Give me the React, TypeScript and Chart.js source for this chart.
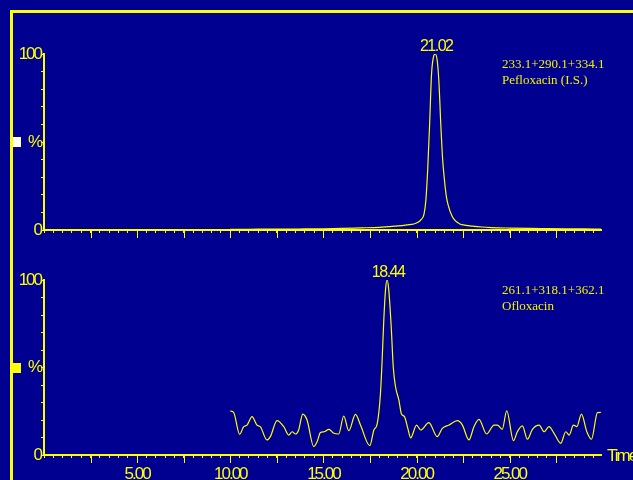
import React, { useEffect, useRef } from 'react';
import { Chart, registerables } from 'chart.js';

Chart.register(...registerables);

const BG = '#000090';
const YELLOW = '#ffff00';
const SANS = '"Liberation Sans", Arial, sans-serif';
const SERIF = '"Liberation Serif", "Times New Roman", serif';

// Top trace: Pefloxacin (I.S.), time (min) vs relative intensity (%)
const topTimes = [
  10.0, 11.0, 12.0, 13.0, 14.0, 15.0, 16.0, 17.0, 18.0, 18.5, 19.0, 19.5, 19.85,
  20.1, 20.25, 20.4, 20.5, 20.6, 20.7, 20.8, 20.9, 21.0, 21.1, 21.2, 21.3, 21.4,
  21.5, 21.6, 21.7, 21.9, 22.1, 22.3, 22.5, 23.0, 23.5, 24.0, 25.0, 26.0, 27.0,
  28.0, 29.0, 29.9,
];
const topValues = [
  0.4, 0.4, 0.5, 0.5, 0.6, 0.7, 0.9, 1.2, 1.5, 1.9, 2.3, 2.9, 3.4,
  4.5, 6, 9, 17, 35, 60, 88, 98, 100, 97, 84, 60, 40,
  28, 19, 14, 8, 5, 3.6, 2.9, 2.2, 1.7, 1.4, 1.1, 0.9, 0.8,
  0.7, 0.6, 0.5,
];

// Bottom trace: Ofloxacin
const bottomTimes = [
  10.0, 10.18, 10.5, 10.72, 10.9, 11.17, 11.43, 11.61, 11.97, 12.15, 12.51, 12.87,
  13.14, 13.32, 13.5, 13.67, 13.89, 14.12, 14.48, 14.66, 14.84, 15.05, 15.29, 15.56,
  15.82, 16.09, 16.36, 16.72, 16.99, 17.49, 17.71, 17.88, 18.06, 18.15, 18.24, 18.33,
  18.42, 18.51, 18.64, 18.75, 18.87, 19.05, 19.19, 19.35, 19.53, 19.68, 20.0, 20.22,
  20.66, 21.11, 21.38, 21.74, 22.19, 22.46, 22.81, 23.08, 23.35, 23.76, 24.16, 24.34,
  24.6, 24.84, 25.2, 25.41, 25.68, 25.95, 26.22, 26.58, 26.85, 27.11, 27.38, 27.74,
  28.01, 28.19, 28.42, 28.6, 28.85, 29.14, 29.39, 29.71, 29.89,
];
const bottomValues = [
  25.1, 24.4, 11.8, 16.2, 17.1, 21.9, 17.1, 16.2, 8.6, 10.5, 19.6, 16.2,
  11.4, 13.3, 12.0, 14.3, 23.4, 20.0, 4.8, 7.6, 12.8, 13.3, 14.7, 12.4,
  12.0, 22.3, 13.9, 23.2, 17.1, 5.3, 14.3, 17.5, 35, 54, 77, 94,
  100, 94, 73, 50, 39, 31.4, 23.4, 21.9, 15.2, 9.8, 17.1, 14.3,
  18.5, 10.5, 15.2, 17.1, 19.6, 17.1, 8.6, 16.2, 20.4, 12.0, 17.1, 17.1,
  14.7, 25.3, 8.2, 13.3, 16.6, 9.0, 14.7, 17.1, 13.3, 16.2, 12.4, 6.7,
  13.3, 11.4, 17.1, 16.2, 23.4, 13.3, 9.0, 24.2, 24.4,
];

const xLabelValues = [5, 10, 15, 20, 25];
const xTickLabels = ['5.00', '10.00', '15.00', '20.00', '25.00'];
const yTickValues = [0, 50, 100];
const yTickLabels = ['0', '%', '100'];
const topPeakLabel = '21.02';
const bottomPeakLabel = '18.44';
const topAnnotation = ['233.1+290.1+334.1', 'Pefloxacin (I.S.)'];
const bottomAnnotation = ['261.1+318.1+362.1', 'Ofloxacin'];
const xAxisTitle = 'Time';

type PanelOpts = {
  times: number[];
  values: number[];
  padTop: number;
  padBottom: number;
  xHeight: number;
  showXLabels: boolean;
  peakLabel: string;
  annotation: string[];
  markerColor: string;
  showTime: boolean;
};

function makeChart(canvas: HTMLCanvasElement, o: PanelOpts) {
  const decor = {
    id: 'decor',
    beforeUpdate(chart: any) {
      chart.ctx.letterSpacing = '-2px';
    },
    beforeDraw(chart: any) {
      chart.ctx.letterSpacing = '-2px';
    },
    afterDraw(chart: any) {
      const ctx = chart.ctx as CanvasRenderingContext2D & { letterSpacing: string };
      const xs = chart.scales.x;
      const ys = chart.scales.y;
      const area = chart.chartArea;
      ctx.save();
      // longer tick marks every 2.5 min
      ctx.strokeStyle = YELLOW;
      ctx.lineWidth = 1;
      xs.ticks.forEach((t: any) => {
        const r = t.value / 2.5;
        if (t.value > 0 && Math.abs(r - Math.round(r)) < 1e-6) {
          const px = Math.round(xs.getPixelForValue(t.value)) + 0.5;
          ctx.beginPath();
          ctx.moveTo(px, area.bottom);
          ctx.lineTo(px, area.bottom + 8);
          ctx.stroke();
        }
      });
      // marker square
      ctx.fillStyle = o.markerColor;
      ctx.fillRect(13, Math.round(ys.getPixelForValue(50)) - 5, 8, 10);
      // peak label
      let mi = 0;
      o.values.forEach((v, i) => { if (v > o.values[mi]) mi = i; });
      const px = xs.getPixelForValue(o.times[mi]);
      const py = ys.getPixelForValue(o.values[mi]);
      ctx.fillStyle = YELLOW;
      ctx.font = '16px ' + SANS;
      ctx.letterSpacing = '-1.5px';
      ctx.textAlign = 'center';
      ctx.textBaseline = 'alphabetic';
      ctx.fillText(o.peakLabel, px + 1, py - 3);
      // annotation
      ctx.letterSpacing = '0px';
      ctx.font = '13px ' + SERIF;
      ctx.textAlign = 'left';
      ctx.fillStyle = '#f2f200';
      const y100 = ys.getPixelForValue(100);
      ctx.fillText(o.annotation[0], 502, y100 + 14);
      ctx.fillText(o.annotation[1], 502, y100 + 30);
      // Time label
      if (o.showTime) {
        ctx.fillStyle = YELLOW;
        ctx.font = '17px ' + SANS;
        ctx.letterSpacing = '-2px';
        ctx.textBaseline = 'middle';
        ctx.fillText(xAxisTitle, 607, area.bottom + 1);
      }
      ctx.restore();
    },
  };

  const gridOpts = {
    drawOnChartArea: false,
    drawTicks: true,
    tickLength: 3,
    color: YELLOW,
    tickColor: YELLOW,
    tickWidth: 1,
  };

  return new Chart(canvas, {
    type: 'line',
    data: {
      datasets: [
        {
          data: o.times.map((t, i) => ({ x: t, y: o.values[i] })),
          borderColor: YELLOW,
          borderWidth: 1.2,
          pointRadius: 0,
          fill: false,
          cubicInterpolationMode: 'monotone',
        },
      ],
    },
    options: {
      responsive: false,
      animation: false,
      devicePixelRatio: 1,
      events: [],
      layout: { padding: { top: o.padTop, bottom: o.padBottom, left: 0, right: 32 } },
      plugins: { legend: { display: false }, tooltip: { enabled: false } },
      scales: {
        x: {
          type: 'linear',
          min: 0,
          max: 29.9,
          afterFit: (s: any) => { s.height = o.xHeight; },
          border: { display: true, color: YELLOW, width: 2 },
          grid: gridOpts,
          ticks: {
            stepSize: 0.5,
            autoSkip: false,
            includeBounds: false,
            maxRotation: 0,
            minRotation: 0,
            color: YELLOW,
            padding: 6,
            font: { family: SANS, size: 17 },
            callback: (v: any) => {
              if (!o.showXLabels) return '';
              const idx = xLabelValues.indexOf(Number(v));
              return idx >= 0 ? xTickLabels[idx] : '';
            },
          },
        },
        y: {
          min: 0,
          max: 100,
          afterFit: (s: any) => { s.width = 44; },
          border: { display: true, color: YELLOW, width: 2 },
          grid: gridOpts,
          ticks: {
            stepSize: 10,
            autoSkip: false,
            color: YELLOW,
            padding: 0,
            font: { family: SANS, size: 17 },
            callback: (v: any) => {
              const idx = yTickValues.indexOf(Number(v));
              return idx >= 0 ? yTickLabels[idx] : '';
            },
          },
        },
      },
    } as any,
    plugins: [decor],
  });
}

export default function App() {
  const topRef = useRef<HTMLCanvasElement>(null);
  const botRef = useRef<HTMLCanvasElement>(null);

  useEffect(() => {
    const top = makeChart(topRef.current!, {
      times: topTimes,
      values: topValues,
      padTop: 54,
      padBottom: 240,
      xHeight: 10,
      showXLabels: false,
      peakLabel: topPeakLabel,
      annotation: topAnnotation,
      markerColor: '#ffffff',
      showTime: false,
    });
    const bot = makeChart(botRef.current!, {
      times: bottomTimes,
      values: bottomValues,
      padTop: 280,
      padBottom: 0,
      xHeight: 25,
      showXLabels: true,
      peakLabel: bottomPeakLabel,
      annotation: bottomAnnotation,
      markerColor: YELLOW,
      showTime: true,
    });
    return () => {
      top.destroy();
      bot.destroy();
    };
  }, []);

  return (
    <div style={{ position: 'fixed', left: 0, top: 0, width: 633, height: 480, background: BG, overflow: 'hidden' }}>
      <div
        style={{
          position: 'absolute',
          left: 10,
          top: 10,
          width: 700,
          height: 600,
          borderTop: '3px solid ' + YELLOW,
          borderLeft: '3px solid ' + YELLOW,
        }}
      />
      <canvas ref={topRef} width={633} height={480} style={{ position: 'absolute', left: 0, top: 0 }} />
      <canvas ref={botRef} width={633} height={480} style={{ position: 'absolute', left: 0, top: 0 }} />
    </div>
  );
}
